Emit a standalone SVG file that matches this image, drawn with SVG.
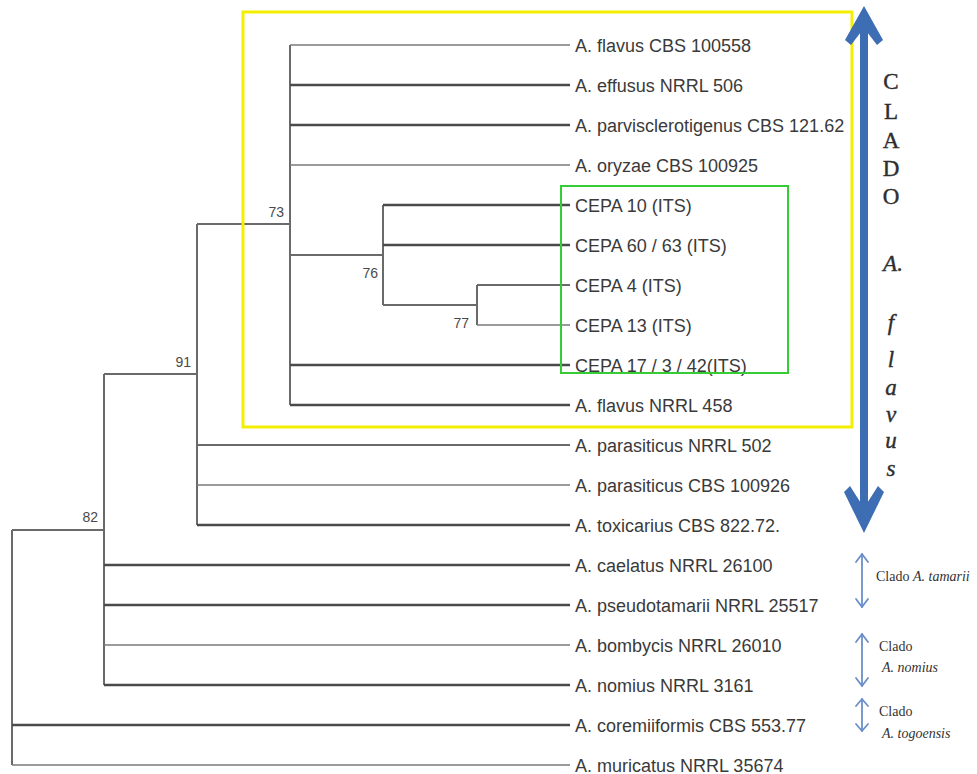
<svg xmlns="http://www.w3.org/2000/svg" width="977" height="774" viewBox="0 0 977 774">
<style>
.bg{fill:#ffffff}
.br{stroke:#6a6a6a;stroke-width:2;fill:none}
.tk{stroke:#4a4a4a;stroke-width:2.6;fill:none}
.tn{stroke:#7a7a7a;stroke-width:1.6;fill:none}
.lb{font-family:"Liberation Sans",Arial,sans-serif;font-size:18px;fill:#3a3a3a}
.bs{font-family:"Liberation Sans",Arial,sans-serif;font-size:14px;fill:#4a4a4a;text-anchor:end}
.cl{font-family:"Liberation Serif","Times New Roman",serif;font-size:23px;fill:#2e2e2e;text-anchor:middle;stroke:#2e2e2e;stroke-width:0.4}
.it{font-style:italic}
.sm{font-family:"Liberation Serif","Times New Roman",serif;font-size:14px;fill:#333}
.big{stroke:#3d6db3;stroke-width:8;fill:none}
.bigh{fill:#3d6db3}
.sa{stroke:#6b8fcb;stroke-width:1.8;fill:none;stroke-linecap:round;stroke-linejoin:round}
</style>
<rect class="bg" x="0" y="0" width="977" height="774"/>

<g id="connectors">
  <line class="br" x1="290" y1="45" x2="290" y2="405"/>
  <line class="br" x1="290" y1="255" x2="383" y2="255"/>
  <line class="br" x1="383" y1="205" x2="383" y2="305"/>
  <line class="br" x1="383" y1="305" x2="477" y2="305"/>
  <line class="br" x1="477" y1="285" x2="477" y2="325"/>
  <line class="br" x1="197" y1="224" x2="197" y2="525"/>
  <line class="br" x1="197" y1="224" x2="290" y2="224"/>
  <line class="br" x1="104" y1="374" x2="104" y2="685"/>
  <line class="br" x1="104" y1="374" x2="197" y2="374"/>
  <line class="br" x1="12" y1="530" x2="12" y2="765"/>
  <line class="br" x1="12" y1="530" x2="104" y2="530"/>
</g>

<g id="bootstrap">
  <text class="bs" x="284" y="217">73</text>
  <text class="bs" x="191" y="367">91</text>
  <text class="bs" x="98" y="522">82</text>
  <text class="bs" x="378" y="278">76</text>
  <text class="bs" x="469" y="328">77</text>
</g>

<g id="leaf-flavus-cbs100558"><line class="tn" x1="290" y1="45" x2="570" y2="45"/><text class="lb" x="575" y="51.5">A. flavus CBS 100558</text></g>
<g id="leaf-effusus"><line class="tk" x1="290" y1="85" x2="570" y2="85"/><text class="lb" x="575" y="91.5">A. effusus NRRL 506</text></g>
<g id="leaf-parvisclerotigenus"><line class="tk" x1="290" y1="125" x2="570" y2="125"/><text class="lb" x="575" y="131.5">A. parvisclerotigenus CBS 121.62</text></g>
<g id="leaf-oryzae"><line class="tn" x1="290" y1="165" x2="570" y2="165"/><text class="lb" x="575" y="171.5">A. oryzae CBS 100925</text></g>
<g id="leaf-cepa10"><line class="tk" x1="383" y1="205" x2="570" y2="205"/><text class="lb" x="575" y="211.5">CEPA 10 (ITS)</text></g>
<g id="leaf-cepa60"><line class="tk" x1="383" y1="245" x2="570" y2="245"/><text class="lb" x="575" y="251.5">CEPA 60 / 63 (ITS)</text></g>
<g id="leaf-cepa4"><line class="br" x1="477" y1="285" x2="570" y2="285"/><text class="lb" x="575" y="291.5">CEPA 4 (ITS)</text></g>
<g id="leaf-cepa13"><line class="tn" x1="477" y1="325" x2="570" y2="325"/><text class="lb" x="575" y="331.5">CEPA 13 (ITS)</text></g>
<g id="leaf-cepa17"><line class="tk" x1="290" y1="365" x2="570" y2="365"/><text class="lb" x="575" y="371.5">CEPA 17 / 3 / 42(ITS)</text></g>
<g id="leaf-flavus-nrrl458"><line class="tk" x1="290" y1="405" x2="570" y2="405"/><text class="lb" x="575" y="411.5">A. flavus NRRL 458</text></g>
<g id="leaf-parasiticus-nrrl502"><line class="br" x1="197" y1="445" x2="570" y2="445"/><text class="lb" x="575" y="451.5">A. parasiticus NRRL 502</text></g>
<g id="leaf-parasiticus-cbs"><line class="tn" x1="197" y1="485" x2="570" y2="485"/><text class="lb" x="575" y="491.5">A. parasiticus CBS 100926</text></g>
<g id="leaf-toxicarius"><line class="tk" x1="197" y1="525" x2="570" y2="525"/><text class="lb" x="575" y="531.5">A. toxicarius CBS 822.72.</text></g>
<g id="leaf-caelatus"><line class="tk" x1="104" y1="565" x2="570" y2="565"/><text class="lb" x="575" y="571.5">A. caelatus NRRL 26100</text></g>
<g id="leaf-pseudotamarii"><line class="tk" x1="104" y1="605" x2="570" y2="605"/><text class="lb" x="575" y="611.5">A. pseudotamarii NRRL 25517</text></g>
<g id="leaf-bombycis"><line class="tn" x1="104" y1="645" x2="570" y2="645"/><text class="lb" x="575" y="651.5">A. bombycis NRRL 26010</text></g>
<g id="leaf-nomius"><line class="tk" x1="104" y1="685" x2="570" y2="685"/><text class="lb" x="575" y="691.5">A. nomius NRRL 3161</text></g>
<g id="leaf-coremiiformis"><line class="tk" x1="12" y1="725" x2="570" y2="725"/><text class="lb" x="575" y="731.5">A. coremiiformis CBS 553.77</text></g>
<g id="leaf-muricatus"><line class="tn" x1="12" y1="765" x2="570" y2="765"/><text class="lb" x="575" y="771.5">A. muricatus NRRL 35674</text></g>

<g id="box-clado-flavus">
  <rect x="243" y="12" width="609" height="415" fill="none" stroke="#f4ef00" stroke-width="3"/>
</g>
<g id="box-cepa">
  <rect x="561" y="186" width="227" height="187" fill="none" stroke="#35cc35" stroke-width="2"/>
</g>

<g id="arrow-clado-flavus">
  <line class="big" x1="864" y1="26" x2="864" y2="512"/>
  <polygon class="bigh" points="864,6 883,40 877,45 864,28 851,45 845,40"/>
  <polygon class="bigh" points="864,533 884,492 878,486 864,508 850,486 844,492"/>
  <text class="cl" x="891" y="89">C</text>
  <text class="cl" x="891" y="119">L</text>
  <text class="cl" x="891" y="148">A</text>
  <text class="cl" x="891" y="176">D</text>
  <text class="cl" x="891" y="204">O</text>
  <text class="cl it" x="893" y="271">A.</text>
  <text class="cl it" x="891" y="330">f</text>
  <text class="cl it" x="891" y="367">l</text>
  <text class="cl it" x="891" y="395">a</text>
  <text class="cl it" x="891" y="422">v</text>
  <text class="cl it" x="891" y="448">u</text>
  <text class="cl it" x="891" y="476">s</text>
</g>

<g id="arrow-clado-tamarii">
  <line class="sa" x1="862" y1="554" x2="862" y2="607"/>
  <polyline class="sa" points="856,562 862,554 868,562"/>
  <polyline class="sa" points="856,599 862,607 868,599"/>
  <text class="sm" x="876" y="581">Clado <tspan class="it">A. tamarii</tspan></text>
</g>
<g id="arrow-clado-nomius">
  <line class="sa" x1="862" y1="634" x2="862" y2="686"/>
  <polyline class="sa" points="856,642 862,634 868,642"/>
  <polyline class="sa" points="856,678 862,686 868,678"/>
  <text class="sm" x="879" y="651">Clado</text>
  <text class="sm it" x="882" y="672">A. nomius</text>
</g>
<g id="arrow-clado-togoensis">
  <line class="sa" x1="862" y1="699" x2="862" y2="731"/>
  <polyline class="sa" points="856,706 862,699 868,706"/>
  <polyline class="sa" points="856,724 862,731 868,724"/>
  <text class="sm" x="879" y="716">Clado</text>
  <text class="sm it" x="882" y="738">A. togoensis</text>
</g>
</svg>
